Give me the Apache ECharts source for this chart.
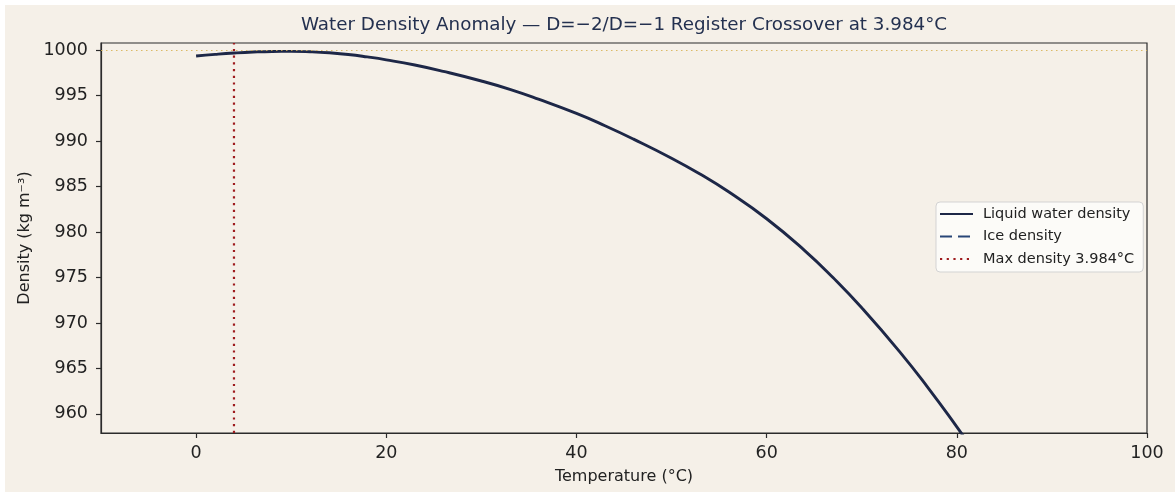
<!DOCTYPE html>
<html><head><meta charset="utf-8">
<script src="https://cdn.jsdelivr.net/npm/echarts@6/dist/echarts.min.js"></script>
<style>
html,body{margin:0;padding:0;background:#ffffff;width:1175px;height:492px;overflow:hidden}
#c{position:absolute;left:5px;top:5px;width:1170px;height:487px;background:#f5f0e8}
</style>
</head><body><div id="c"></div>
<script>
// ---- data ----
const temperatures = [0, 2, 4, 6, 8, 10, 12, 14, 16, 18, 20, 23, 26, 30, 33, 36, 40, 43, 46, 50, 53, 56, 60, 64, 67, 70, 74, 77, 80, 81];
const liquidDensity = [999.37, 999.55, 999.70, 999.81, 999.87, 999.88, 999.83, 999.72, 999.54, 999.27, 998.95, 998.38, 997.68, 996.62, 995.70, 994.62, 993.05, 991.70, 990.23, 988.13, 986.38, 984.43, 981.47, 977.97, 974.97, 971.67, 966.83, 962.84, 958.58, 957.08];
const iceTemperatures = [];
const iceDensity = [];
const maxDensityTemp = 3.984;
const maxDensityValue = 999.97;
const xTicks = [0, 20, 40, 60, 80, 100];
const yTicks = [960, 965, 970, 975, 980, 985, 990, 995, 1000];
const xRange = [-10, 100];
const yRange = [957.9, 1000.8];
const seriesNames = ['Liquid water density', 'Ice density', 'Max density 3.984°C'];
const titleText = 'Water Density Anomaly — D=−2/D=−1 Register Crossover at 3.984°C';

const FONT = 'DejaVu Sans';
const liquidData = temperatures.map((t, i) => [t, liquidDensity[i]]);
const iceData = iceTemperatures.map((t, i) => [t, iceDensity[i]]);
const maxLineData = [[maxDensityTemp, yRange[0]], [maxDensityTemp, yRange[1]]];

const chart = echarts.init(document.getElementById('c'), null, {renderer: 'canvas'});
chart.setOption({
  backgroundColor: '#f5f0e8',
  animation: false,
  title: {
    text: titleText,
    left: 614, top: 6, textAlign: 'center',
    textStyle: {fontFamily: FONT, fontSize: 18.3, fontWeight: 'normal', color: '#23304f'}
  },
  grid: {
    left: 96, right: 28, top: 38, bottom: 59,
    show: true, borderColor: '#2b2b2b', borderWidth: 1.2, backgroundColor: 'transparent'
  },
  legend: {
    orient: 'vertical', left: 931, top: 197,
    itemWidth: 33, itemHeight: 12, itemGap: 6.5,
    padding: [4, 9, 5, 3],
    backgroundColor: 'rgba(253,252,250,0.9)', borderColor: '#d3d3d3', borderWidth: 1, borderRadius: 4,
    itemStyle: {opacity: 0},
    textStyle: {fontFamily: FONT, fontSize: 14.5, color: '#222', lineHeight: 16, padding: [0, 0, 0, 5]},
    data: seriesNames
  },
  xAxis: {
    type: 'value', min: xRange[0], max: xRange[1],
    name: 'Temperature (°C)', nameLocation: 'middle', nameGap: 36,
    nameTextStyle: {fontFamily: FONT, fontSize: 16, color: '#222'},
    axisLine: {show: true, onZero: false, lineStyle: {color: '#2b2b2b', width: 1.2}},
    axisTick: {show: true, length: 5, lineStyle: {color: '#2b2b2b', width: 1.2}, customValues: xTicks},
    axisLabel: {fontFamily: FONT, fontSize: 17.5, color: '#222', margin: 11, customValues: xTicks,
      formatter: v => String(v)},
    splitLine: {show: false}
  },
  yAxis: {
    type: 'value', min: yRange[0], max: yRange[1],
    name: 'Density (kg m⁻³)', nameLocation: 'middle', nameGap: 62,
    nameTextStyle: {fontFamily: FONT, fontSize: 16, color: '#222'},
    axisLine: {show: true, onZero: false, lineStyle: {color: '#2b2b2b', width: 1.2}},
    axisTick: {show: true, length: 5, lineStyle: {color: '#2b2b2b', width: 1.2}, customValues: yTicks},
    axisLabel: {fontFamily: FONT, fontSize: 17.5, color: '#222', margin: 13, customValues: yTicks,
      formatter: v => String(v)},
    splitLine: {show: false}
  },
  series: [
    {
      name: seriesNames[0], type: 'line', data: liquidData, smooth: 0.5,
      symbol: 'none', clip: true, z: 3,
      lineStyle: {color: '#1d2747', width: 2.9},
      itemStyle: {color: '#1d2747'},
      markLine: {
        silent: true, symbol: 'none', label: {show: false},
        lineStyle: {color: '#d6b04e', width: 1.2, type: [1.5, 3.5], opacity: 0.85},
        data: [{yAxis: maxDensityValue}]
      }
    },
    {
      name: seriesNames[1], type: 'line', data: iceData,
      symbol: 'none',
      lineStyle: {color: '#284677', width: 2.9, type: [12, 6]},
      itemStyle: {color: '#284677'}
    },
    {
      name: seriesNames[2], type: 'line', data: maxLineData,
      symbol: 'none', z: 2,
      lineStyle: {color: '#9e1b1e', width: 2.2, type: [2.2, 4.5]},
      itemStyle: {color: '#9e1b1e'}
    }
  ]
});
</script>
</body></html>
